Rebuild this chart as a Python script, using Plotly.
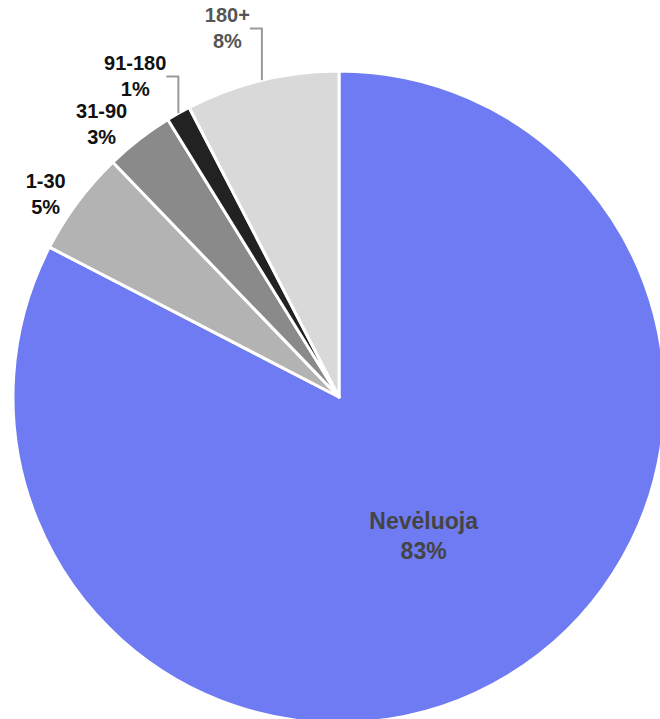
import plotly.graph_objects as go

categories = ["Nevėluoja", "1-30", "31-90", "91-180", "180+"]
values = [82.6, 5.2, 3.4, 1.2, 7.6]
slice_colors = ["#6f7bf2", "#b3b3b3", "#8a8a8a", "#222222", "#d9d9d9"]
text_colors = ["#444444", "#111111", "#111111", "#111111", "#555555"]
text_positions = ["inside", "outside", "outside", "outside", "outside"]

templates = [
    f"<span style='color:{c}'>%{{label}}</span><br><span style='color:{c}'>%{{percent:.0%}}</span>"
    for c in text_colors
]

FONT = "Liberation Sans, Arial, sans-serif"

fig = go.Figure(go.Pie(
    labels=categories,
    values=values,
    sort=False,
    direction="clockwise",
    rotation=0,
    marker=dict(colors=slice_colors, line=dict(color="white", width=3)),
    texttemplate=templates,
    textposition=text_positions,
    textfont=dict(family=FONT, size=22, weight="bold"),
    insidetextfont=dict(family=FONT, size=23, weight="bold", color="#444444"),
    outsidetextfont=dict(family=FONT, size=20, weight="bold", color="#999999"),
    insidetextorientation="horizontal",
    showlegend=False,
    hoverinfo="label+percent",
))

fig.update_layout(
    width=670,
    height=727,
    margin=dict(l=13, r=5, t=71, b=4, autoexpand=False),
    paper_bgcolor="white",
    plot_bgcolor="white",
    font=dict(family=FONT),
)

fig.write_html(
    "out.html",
    config={"displayModeBar": False},
    post_script="document.body.style.margin='0';document.body.style.overflow='hidden';",
)
